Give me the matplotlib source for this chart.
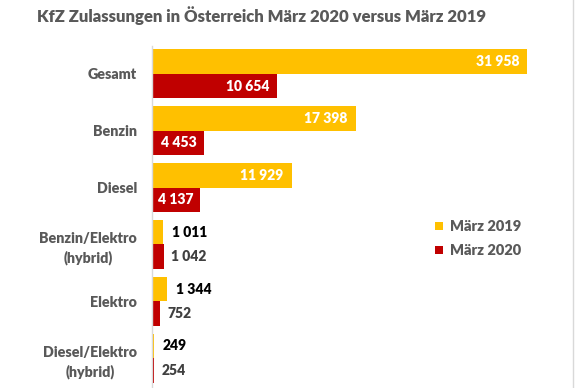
import matplotlib
matplotlib.use("Agg")
import matplotlib.pyplot as plt

categories = ["Gesamt", "Benzin", "Diesel", "Benzin/Elektro\n(hybrid)", "Elektro", "Diesel/Elektro\n(hybrid)"]
maerz_2019 = [31958, 17398, 11929, 1011, 1344, 249]
maerz_2020 = [10654, 4453, 4137, 1042, 752, 254]
series_names = ["März 2019", "März 2020"]
title = "KfZ Zulassungen in Österreich März 2020 versus März 2019"

C19 = "#FFC000"
C20 = "#C00000"
GRAY = "#595959"
FONT = "Lato"
WGT = "heavy"

plt.rcParams['font.family'] = [FONT, 'DejaVu Sans']

W, H = 575, 388
fig = plt.figure(figsize=(W / 100, H / 100), dpi=100)
ax = fig.add_axes([151.5 / W, 1.5 / H, 1 - 151.5 / W, (386.5 - 45.5) / H])

def fmt(v):
    return f"{v:,}".replace(",", " ")

ys = list(range(len(categories)))
h = 0.43
ax.barh([y - h / 2 for y in ys], maerz_2019, height=h, color=C19, label=series_names[0])
ax.barh([y + h / 2 for y in ys], maerz_2020, height=h, color=C20, label=series_names[1])

ax.set_xlim(0, 36000)
ax.set_ylim(len(categories) - 0.5, -0.5)

threshold = 3000
for y, v in zip(ys, maerz_2019):
    if v > threshold:
        ax.annotate(fmt(v), (v, y - h / 2), xytext=(-6, 0), textcoords="offset points",
                    ha="right", va="center", color="white", fontsize=10, fontweight=WGT)
    else:
        ax.annotate(fmt(v), (v, y - h / 2), xytext=(6, 0), textcoords="offset points",
                    ha="left", va="center", color="black", fontsize=10, fontweight=WGT)
for y, v in zip(ys, maerz_2020):
    if v > threshold:
        ax.annotate(fmt(v), (v, y + h / 2), xytext=(-5, 0), textcoords="offset points",
                    ha="right", va="center", color="white", fontsize=10, fontweight=WGT)
    else:
        ax.annotate(fmt(v), (v, y + h / 2), xytext=(5, 0), textcoords="offset points",
                    ha="left", va="center", color="#404040", fontsize=10, fontweight=WGT)

ax.set_yticks(ys)
ax.set_yticklabels(categories, fontsize=10.3, fontweight=WGT, color=GRAY,
                   linespacing=1.45, multialignment="center")
ax.tick_params(axis="y", length=0, pad=10.5)
ax.set_xticks([])
for s in ["top", "right", "bottom"]:
    ax.spines[s].set_visible(False)
ax.spines["left"].set_color("#D9D9D9")
ax.spines["left"].set_linewidth(1.0)

leg = ax.legend(loc="upper left", bbox_to_anchor=(422 / W, 1 - 207 / H), bbox_transform=fig.transFigure,
                frameon=False, handlelength=0.55, handleheight=0.55, handletextpad=0.45,
                labelspacing=0.75, prop={"family": FONT, "weight": WGT, "size": 10.5})
for t in leg.get_texts():
    t.set_color(GRAY)

fig.text(37 / W, 1 - 16 / H, title, ha="left", va="center", fontsize=12.0,
         fontweight=WGT, color=GRAY)

fig.add_artist(plt.Line2D([573 / W, 573 / W], [0, 1], transform=fig.transFigure, color="#D9D9D9", lw=1))

fig.savefig("out.png", dpi=100)
